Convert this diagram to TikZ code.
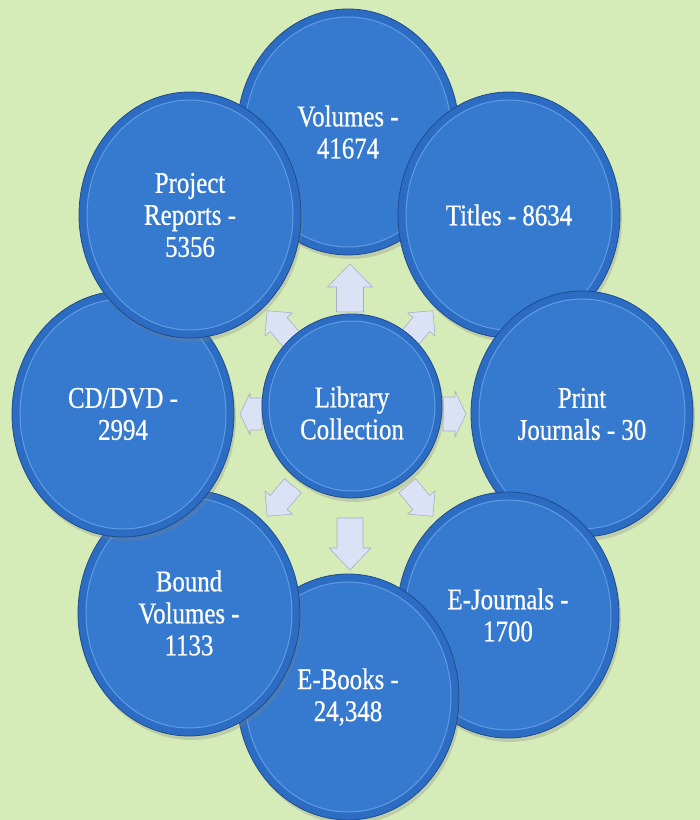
\documentclass[tikz,border=0pt]{standalone}
\usepackage{fontspec}
\setmainfont{Liberation Serif}[FakeStretch=0.83,FakeBold=0.6]
\usetikzlibrary{shapes.geometric,shadows}
\definecolor{bgc}{RGB}{214,236,184}
\definecolor{rimc}{RGB}{44,108,195}
\definecolor{edgec}{RGB}{30,76,142}
\definecolor{facec}{RGB}{54,122,207}
\definecolor{ringc}{RGB}{96,156,228}
\definecolor{arrowc}{RGB}{220,226,245}
\definecolor{arrowedge}{RGB}{168,174,194}
\newcommand\blockarr[7]{%
  \begin{scope}[shift={(#1,#2)},rotate=#3]
    \filldraw[arrowsty] ({-#4/2},{-#7}) -- ({#4/2-#5},{-#7}) -- ({#4/2-#5},{-#6}) -- ({#4/2},0)
      -- ({#4/2-#5},{#6}) -- ({#4/2-#5},{#7}) -- ({-#4/2},{#7}) -- cycle;
  \end{scope}}
\begin{document}
\begin{tikzpicture}[x=1pt,y=1pt,
  bubble/.style={ellipse, inner sep=0pt, minimum width=222pt, minimum height=246pt,
    fill=rimc, draw=edgec, line width=0.8pt,
    drop shadow={opacity=0.28, shadow xshift=2pt, shadow yshift=-4pt},
    path picture={\draw[ringc, line width=1pt, fill=facec] (path picture bounding box.center) ellipse [x radius=103pt, y radius=115pt];},
    text=white, align=center, font=\fontsize{30}{32}\selectfont},
  hub/.style={ellipse, inner sep=0pt, minimum width=180pt, minimum height=184pt,
    fill=rimc, draw=edgec, line width=0.8pt,
    drop shadow={opacity=0.28, shadow xshift=2pt, shadow yshift=-4pt},
    path picture={\draw[ringc, line width=1pt, fill=facec] (path picture bounding box.center) ellipse [x radius=83pt, y radius=85pt];}},
  lbl/.style={text=white, align=center, font=\fontsize{30}{32}\selectfont},
  arrowsty/.style={fill=arrowc, draw=arrowedge, line width=0.6pt, line join=round}]
\useasboundingbox (0,0) rectangle (700,820);
\fill[bgc] (0,0) rectangle (700,820);
% outer bubbles, clockwise from top
\node[bubble] (vol)  at (348,688) {Volumes -\\41674};
\node[bubble] (tit)  at (509,605) {Titles - 8634};
\node[bubble] (prj)  at (582,406) {Print\\Journals - 30};
\node[bubble] (ejr)  at (508,205) {E-Journals -\\1700};
\node[bubble] (ebk)  at (348,123) {E-Books -\\24,348};
\node[bubble] (bnd)  at (189,207) {Bound\\Volumes -\\1133};
\node[bubble] (cdd)  at (123,406) {CD/DVD -\\2994};
\node[bubble] (rep)  at (190,605) {Project\\Reports -\\5356};
% radiating block arrows
\blockarr{350}{532}{90}{48}{23}{22.5}{13.5}
\blockarr{350}{276}{-90}{52}{22}{21}{13}
\blockarr{251}{406}{180}{22}{10}{21}{16}
\blockarr{454.5}{406}{0}{23}{11}{23}{17}
\blockarr{420}{494}{50}{40}{18}{18}{11}
\blockarr{280}{494}{130}{40}{18}{18}{11}
\blockarr{280}{319}{230}{40}{18}{18}{11}
\blockarr{420}{319}{310}{40}{18}{18}{11}
% hub
\node[hub] (hub) at (352,414) {};
\node[lbl] (hubtxt) at (352,407) {Library\\Collection};
\end{tikzpicture}
\end{document}
